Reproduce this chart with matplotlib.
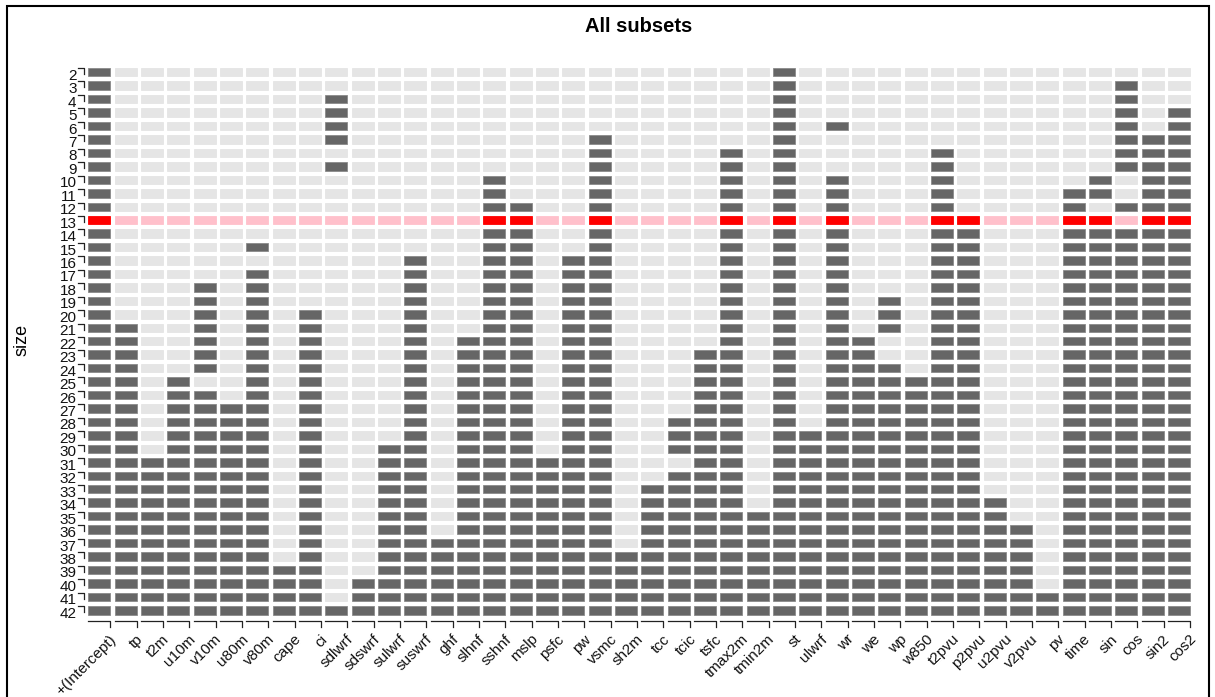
import matplotlib
matplotlib.use("Agg")
import matplotlib.pyplot as plt
import matplotlib.transforms as mtransforms
from matplotlib.patches import Rectangle

plt.rcParams['font.family'] = ['Liberation Sans', 'DejaVu Sans']

# variables in the regression, one column each
variables = ["+(Intercept)", "tp", "t2m", "u10m", "v10m", "u80m", "v80m", "cape", "ci",
             "sdlwrf", "sdswrf", "sulwrf", "suswrf", "ghf", "slhnf", "sshnf", "mslp", "psfc",
             "pw", "vsmc", "sh2m", "tcc", "tcic", "tsfc", "tmax2m", "tmin2m", "st", "ulwrf",
             "wr", "we", "wp", "w850", "t2pvu", "p2pvu", "u2pvu", "v2pvu", "pv", "time",
             "sin", "cos", "sin2", "cos2"]

sizes = list(range(2, 43))
best_size = 13

# best model of each size: '#' = variable in model (groups of 6 columns)
models = [
    "#..... ...... ...... ...... ..#... ...... ......",  # 2
    "#..... ...... ...... ...... ..#... ...... ...#..",  # 3
    "#..... ...#.. ...... ...... ..#... ...... ...#..",  # 4
    "#..... ...#.. ...... ...... ..#... ...... ...#.#",  # 5
    "#..... ...#.. ...... ...... ..#.#. ...... ...#.#",  # 6
    "#..... ...#.. ...... .#.... ..#... ...... ...###",  # 7
    "#..... ...... ...... .#.... #.#... ..#... ...###",  # 8
    "#..... ...#.. ...... .#.... #.#... ..#... ...###",  # 9
    "#..... ...... ...#.. .#.... #.#.#. ..#... ..#.##",  # 10
    "#..... ...... ...#.. .#.... #.#.#. ..#... .##.##",  # 11
    "#..... ...... ...##. .#.... #.#.#. ..#... .#.###",  # 12
    "#..... ...... ...##. .#.... #.#.#. ..##.. .##.##",  # 13
    "#..... ...... ...##. .#.... #.#.#. ..##.. .#####",  # 14
    "#..... #..... ...##. .#.... #.#.#. ..##.. .#####",  # 15
    "#..... ...... #..##. ##.... #.#.#. ..##.. .#####",  # 16
    "#..... #..... #..##. ##.... #.#.#. ..##.. .#####",  # 17
    "#...#. #..... #..##. ##.... #.#.#. ..##.. .#####",  # 18
    "#...#. #..... #..##. ##.... #.#.#. #.##.. .#####",  # 19
    "#...#. #.#... #..##. ##.... #.#.#. #.##.. .#####",  # 20
    "##..#. #.#... #..##. ##.... #.#.#. #.##.. .#####",  # 21
    "##..#. #.#... #.###. ##.... #.#.## ..##.. .#####",  # 22
    "##..#. #.#... #.###. ##...# #.#.## ..##.. .#####",  # 23
    "##..#. #.#... #.###. ##...# #.#.## #.##.. .#####",  # 24
    "##.#.. #.#... #.###. ##...# #.#.## ####.. .#####",  # 25
    "##.##. #.#... #.###. ##...# #.#.## ####.. .#####",  # 26
    "##.### #.#... #.###. ##...# #.#.## ####.. .#####",  # 27
    "##.### #.#... #.###. ##..## #.#.## ####.. .#####",  # 28
    "##.### #.#... #.###. ##..## #.#### ####.. .#####",  # 29
    "##.### #.#..# #.###. ##..## #.#### ####.. .#####",  # 30
    "###### #.#..# #.#### ##...# #.#### ####.. .#####",  # 31
    "###### #.#..# #.#### ##..## #.#### ####.. .#####",  # 32
    "###### #.#..# #.#### ##.### #.#### ####.. .#####",  # 33
    "###### #.#..# #.#### ##.### #.#### #####. .#####",  # 34
    "###### #.#..# #.#### ##.### ###### #####. .#####",  # 35
    "###### #.#..# #.#### ##.### ###### ###### .#####",  # 36
    "###### #.#..# ###### ##.### ###### ###### .#####",  # 37
    "###### #.#..# ###### ###### ###### ###### .#####",  # 38
    "###### ###..# ###### ###### ###### ###### .#####",  # 39
    "###### ###.## ###### ###### ###### ###### .#####",  # 40
    "###### ###.## ###### ###### ###### ###### ######",  # 41
    "###### ###### ###### ###### ###### ###### ######",  # 42
]

W, H = 1215, 697
fig = plt.figure(figsize=(W / 100, H / 100), dpi=100)
ax_left, ax_right, ax_top, ax_bottom = 86, 1192.3, 65.5, 617
ax = fig.add_axes([ax_left / W, 1 - ax_bottom / H, (ax_right - ax_left) / W, (ax_bottom - ax_top) / H])

ncol = len(variables)
cell_w, cell_h = 0.835, 0.63
for size, row in zip(sizes, models):
    flags = [c == '#' for c in row.replace(' ', '')]
    if size == best_size:
        colors = ['#ff0000' if f else '#ffc0cb' for f in flags]
        edges = colors
    else:
        colors = ['#666666' if f else '#e5e5e5' for f in flags]
        edges = ['#8a8a8a' if f else '#e5e5e5' for f in flags]
    ax.bar(range(ncol), cell_h, width=cell_w, bottom=size - cell_h / 2,
           color=colors, edgecolor=edges, linewidth=0.6)

ax.set_xlim(-0.5, ncol - 0.5)
ax.set_ylim(sizes[-1] + 0.5, sizes[0] - 0.5)
ax.set_xticks([])
ax.set_yticks([])
for s in ax.spines.values():
    s.set_visible(False)

px_w = ax_right - ax_left
px_h = ax_bottom - ax_top
row_px = px_h / len(sizes)
col_px = px_w / ncol

# y axis: labels and little brackets
ytrans = mtransforms.blended_transform_factory(ax.transAxes, ax.transData)
for size in sizes:
    top = size - cell_h / 2
    ax.plot([(78 - ax_left) / px_w, (83.5 - ax_left) / px_w, (83.5 - ax_left) / px_w],
            [top, top, top + 6 / row_px], transform=ytrans, color='#222222', lw=0.9,
            clip_on=False)
    ax.text((76.5 - ax_left) / px_w, size + 3.5 / row_px, str(size), transform=ytrans,
            ha='right', va='center', fontsize=11, color='#111111')

# x axis: brackets and rotated labels
xtrans = mtransforms.blended_transform_factory(ax.transData, ax.transAxes)
yb0 = -(621 - ax_bottom) / px_h
yb1 = -(627 - ax_bottom) / px_h
for i, name in enumerate(variables):
    x0, x1 = i - cell_w / 2, i + cell_w / 2
    ax.plot([x0, x1, x1], [yb0, yb0, yb1], transform=xtrans, color='#222222', lw=0.9,
            clip_on=False)
    ax.text(i + 15 / col_px, -(637 - ax_bottom) / px_h, name, transform=xtrans,
            rotation=45, rotation_mode='anchor', ha='right', va='center',
            fontsize=11, color='#111111')

fig.text(639 / W, 1 - 27 / H, "All subsets", ha='center', va='center',
         fontsize=14.5, fontweight='bold')
fig.text(22 / W, 1 - 340 / H, "size", ha='center', va='center', rotation=90, fontsize=13)

fig.patches.append(Rectangle((7 / W, -0.05), (1209 - 7) / W, 1 - 6 / H + 0.05,
                             transform=fig.transFigure, fill=False, lw=1.5,
                             edgecolor='black'))

fig.savefig('out.png', dpi=100)
